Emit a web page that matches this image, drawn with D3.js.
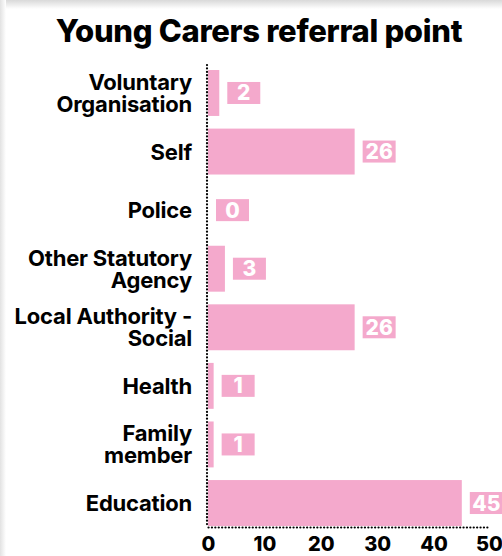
<!DOCTYPE html>
<html>
<head>
<meta charset="utf-8">
<script src="https://cdn.jsdelivr.net/npm/d3@7"></script>
<style>
  html, body { margin: 0; padding: 0; background: #fff; }
  svg { display: block; font-family: Inter, "Noto Sans", sans-serif; }
</style>
</head>
<body>
<div id="chart"></div>
<script>
const width = 502;
const height = 556;

const categories = ["Voluntary Organisation", "Self", "Police", "Other Statutory Agency",
  "Local Authority - Social", "Health", "Family member", "Education"];
const labelLines = [["Voluntary", "Organisation"], ["Self"], ["Police"], ["Other Statutory", "Agency"],
  ["Local Authority -", "Social"], ["Health"], ["Family", "member"], ["Education"]];
const values = [2, 26, 0, 3, 26, 1, 1, 45];
const ticks = [0, 10, 20, 30, 40, 50];

const pink = "#f4a9cc";

const svg = d3.select("#chart")
  .append("svg")
  .attr("width", width)
  .attr("height", height);

// faint card shadow on top and left edges
const defs = svg.append("defs");
const gTop = defs.append("linearGradient").attr("id", "shTop").attr("x1", 0).attr("y1", 0).attr("x2", 0).attr("y2", 1);
gTop.append("stop").attr("offset", 0).attr("stop-color", "#d9d9d9");
gTop.append("stop").attr("offset", 1).attr("stop-color", "#fff");
const gLeft = defs.append("linearGradient").attr("id", "shLeft").attr("x1", 0).attr("y1", 0).attr("x2", 1).attr("y2", 0);
gLeft.append("stop").attr("offset", 0).attr("stop-color", "#e2e2e2");
gLeft.append("stop").attr("offset", 1).attr("stop-color", "#fff");
svg.append("rect").attr("x", 0).attr("y", 0).attr("width", width).attr("height", 9).attr("fill", "url(#shTop)");
svg.append("rect").attr("x", 0).attr("y", 0).attr("width", 6).attr("height", height).attr("fill", "url(#shLeft)");

svg.append("text")
  .attr("x", 259)
  .attr("y", 42)
  .attr("text-anchor", "middle")
  .style("font-size", "31px")
  .style("font-weight", 800)
  .style("letter-spacing", "-0.3px")
  .attr("fill", "#000")
  .text("Young Carers referral point");

const x = d3.scaleLinear().domain([0, 50]).range([208, 490]);
const y = d3.scaleBand()
  .domain(categories)
  .range([66.5, 529.5])
  .paddingInner(0.216)
  .paddingOuter(0.06);

// bars
svg.append("g").selectAll("rect")
  .data(categories)
  .join("rect")
  .attr("x", x(0))
  .attr("y", d => y(d))
  .attr("width", (d, i) => x(values[i]) - x(0))
  .attr("height", y.bandwidth())
  .attr("fill", pink);

// value labels
const vl = svg.append("g").selectAll("g")
  .data(categories)
  .join("g")
  .attr("transform", (d, i) => `translate(${x(values[i]) + 8},${y(d) + y.bandwidth() / 2})`);
vl.append("rect")
  .attr("x", 0)
  .attr("y", -11)
  .attr("width", 33)
  .attr("height", 22)
  .attr("fill", pink);
vl.append("text")
  .attr("x", 16.5)
  .attr("y", 7.5)
  .attr("text-anchor", "middle")
  .attr("fill", "#fff")
  .style("font-size", "21px")
  .style("font-weight", 800)
  .text((d, i) => values[i]);

// category labels
const lab = svg.append("g").selectAll("text")
  .data(categories)
  .join("text")
  .attr("text-anchor", "end")
  .attr("fill", "#000")
  .style("font-size", "22px")
  .style("font-weight", 700)
  .style("letter-spacing", "-0.2px");
lab.each(function (d, i) {
  const lines = labelLines[i];
  const cy = y(d) + y.bandwidth() / 2;
  const start = cy + 8 - (lines.length - 1) * 11;
  d3.select(this).selectAll("tspan")
    .data(lines)
    .join("tspan")
    .attr("x", 192)
    .attr("y", (l, j) => start + j * 22)
    .text(l => l);
});

// dotted axes
const dotted = sel => sel
  .attr("stroke", "#000")
  .attr("stroke-width", 2.2)
  .attr("stroke-linecap", "round")
  .attr("stroke-dasharray", "0.1,3.3")
  .attr("fill", "none");

svg.append("line")
  .attr("x1", 207).attr("x2", 207)
  .attr("y1", 65).attr("y2", 527)
  .call(dotted);

const xAxis = svg.append("g")
  .attr("transform", "translate(0,527)")
  .call(d3.axisBottom(x).tickValues(ticks).tickSize(0).tickPadding(10).tickFormat(d3.format("d")));
xAxis.select(".domain").call(dotted);
xAxis.selectAll("text")
  .attr("fill", "#000")
  .style("font-family", "Inter, sans-serif")
  .style("font-size", "20px")
  .style("font-weight", 800);
xAxis.selectAll(".tick:last-of-type text").attr("dx", "-1px");
</script>
</body>
</html>
